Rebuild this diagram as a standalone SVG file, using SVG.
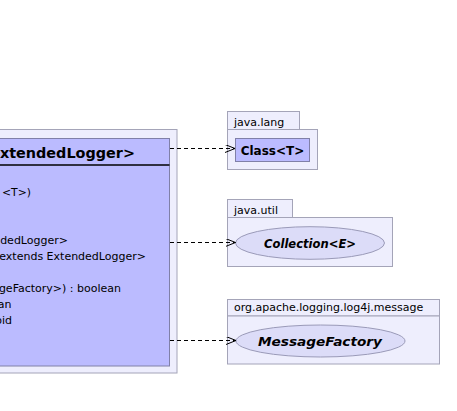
<svg xmlns="http://www.w3.org/2000/svg" width="457" height="411" viewBox="0 0 457 411">
<style>
.pkg{fill:#eeeefd;stroke:#a4a4b8;stroke-width:1}
.cls{fill:#bbbbff;stroke:#8080a8;stroke-width:1}
.iface{fill:#dcdcf8;stroke:#9a9ab8;stroke-width:1}
.t{font-family:"DejaVu Sans",sans-serif;font-size:11px;fill:#000}
.b{font-family:"DejaVu Sans",sans-serif;font-weight:bold;fill:#000}
.bi{font-family:"DejaVu Sans",sans-serif;font-weight:bold;font-style:italic;font-size:12.5px;fill:#000}
.dep{stroke:#000;stroke-width:1;stroke-dasharray:4,3;fill:none}
</style>
<defs>
<marker id="open" markerUnits="userSpaceOnUse" markerWidth="12" markerHeight="10" refX="10" refY="4" orient="auto">
<path d="M0,0 L10,4 L0,8" fill="none" stroke="#000" stroke-width="1"/>
</marker>
</defs>
<g id="main">
<rect class="pkg" x="-5" y="129.5" width="182" height="243.5"/>
<rect class="cls" x="-5" y="138.5" width="174.5" height="227.5"/>
<text class="b" x="135" y="157.5" font-size="14.4" text-anchor="end">xtendedLogger&gt;</text>
<line x1="-5" y1="165" x2="169.5" y2="165" stroke="#000" stroke-width="1.6"/>
<text class="t" x="31" y="196" text-anchor="end" textLength="29" lengthAdjust="spacingAndGlyphs">&lt;T&gt;)</text>
<text class="t" x="68" y="244" text-anchor="end">dedLogger&gt;</text>
<text class="t" x="146" y="260" text-anchor="end">extends ExtendedLogger&gt;</text>
<text class="t" x="121" y="292" text-anchor="end">geFactory&gt;) : boolean</text>
<text class="t" x="11.5" y="308" text-anchor="end">an</text>
<text class="t" x="12" y="324" text-anchor="end">oid</text>
</g>
<g id="java.lang">
<rect class="pkg" x="227.5" y="111.5" width="72" height="18"/>
<rect class="pkg" x="227.5" y="129.5" width="90" height="40"/>
<text class="t" x="234" y="125.5">java.lang</text>
<g id="Class">
<rect class="cls" x="235.5" y="138.5" width="74" height="23"/>
<text class="b" x="272.5" y="155" font-size="12" text-anchor="middle">Class&lt;T&gt;</text>
</g>
</g>
<g id="java.util">
<rect class="pkg" x="227.5" y="199.5" width="65" height="18"/>
<rect class="pkg" x="227.5" y="217.5" width="165" height="49"/>
<text class="t" x="234" y="213.5">java.util</text>
<g id="Collection">
<ellipse class="iface" cx="310" cy="243" rx="74.5" ry="16.3"/>
<text class="bi" x="310" y="247.5" text-anchor="middle" textLength="92" lengthAdjust="spacingAndGlyphs">Collection&lt;E&gt;</text>
</g>
</g>
<g id="message">
<rect class="pkg" x="227.5" y="299.5" width="212" height="16.5"/>
<rect class="pkg" x="227.5" y="316" width="212" height="48"/>
<text class="t" x="234" y="311">org.apache.logging.log4j.message</text>
<g id="MessageFactory">
<ellipse class="iface" cx="320.5" cy="341" rx="84.5" ry="16"/>
<text class="bi" x="320" y="345.5" text-anchor="middle" textLength="124" lengthAdjust="spacingAndGlyphs">MessageFactory</text>
</g>
</g>
<g id="connectors">
<line class="dep" x1="170" y1="148.5" x2="235" y2="148.5" marker-end="url(#open)"/>
<line class="dep" x1="170" y1="242.5" x2="235.5" y2="242.5" marker-end="url(#open)"/>
<line class="dep" x1="170" y1="340.5" x2="236" y2="340.5" marker-end="url(#open)"/>
</g>
</svg>
